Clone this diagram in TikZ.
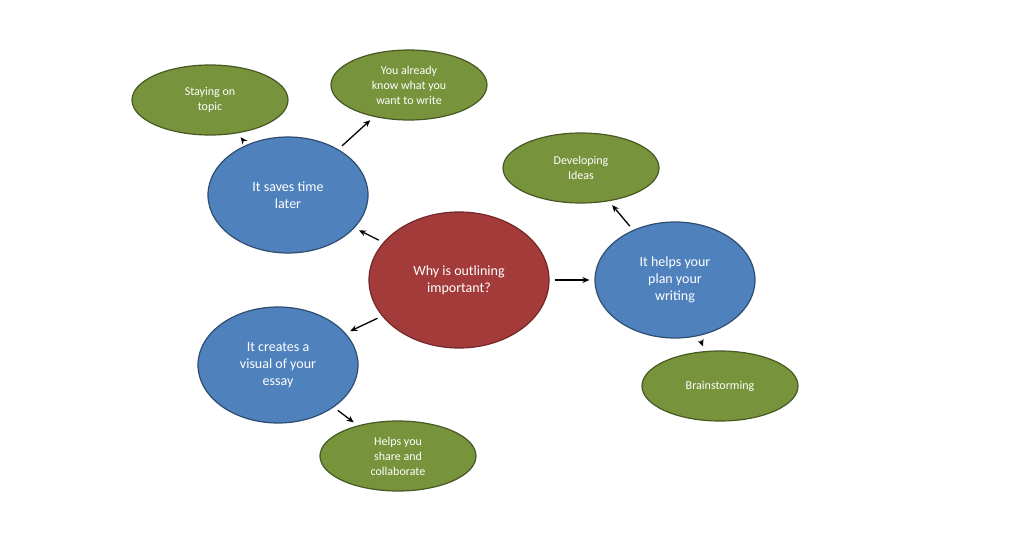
\documentclass[tikz,border=0pt]{standalone}
\usepackage{fontspec}
\setmainfont{Carlito}
\usetikzlibrary{shapes.geometric,arrows.meta}
\definecolor{cred}{HTML}{A33B3A}
\definecolor{cblue}{HTML}{4F81BD}
\definecolor{cgreen}{HTML}{77933C}
\tikzset{
 base/.style={ellipse,inner sep=0pt,align=center,text=white,line width=1.2pt},
 hub/.style={base,fill=cred,draw=cred!70!black,minimum width=180pt,minimum height=136pt,font=\fontsize{14}{17}\selectfont},
 mid/.style={base,fill=cblue,draw=cblue!60!black,minimum width=160pt,minimum height=116pt,font=\fontsize{14}{17}\selectfont},
 leaf/.style={base,fill=cgreen,draw=cgreen!60!black,minimum width=156pt,minimum height=70pt,font=\fontsize{12}{15}\selectfont},
 arr/.style={-{Stealth[length=7pt,width=6pt]},line width=1.3pt,shorten <=5pt,shorten >=5pt}
}
\begin{document}
\begin{tikzpicture}[x=1pt,y=-1pt]
\useasboundingbox (0,0) rectangle (1024,537);
\fill[white] (0,0) rectangle (1024,537);
\node[hub] (c) at (459,280) {Why is outlining\\important?};
\node[mid] (b1) at (288,195) {It saves time\\later};
\node[mid] (b2) at (278,365) {It creates a\\visual of your\\essay};
\node[mid] (b3) at (675,280) {It helps your\\plan your\\writing};
\node[leaf] (g1) at (210,100) {Staying on\\topic};
\node[leaf] (g2) at (409,85) {You already\\know what you\\want to write};
\node[leaf] (g3) at (581,168) {Developing\\Ideas};
\node[leaf] (g4) at (720,386) {Brainstorming};
\node[leaf] (g5) at (398,456) {Helps you\\share and\\collaborate};
\draw[arr] (c) -- (b1);
\draw[arr] (c) -- (b2);
\draw[arr] (c) -- (b3);
\draw[arr] (b1) -- (g1);
\draw[arr] (b1) -- (g2);
\draw[arr] (b3) -- (g3);
\draw[arr] (b3) -- (g4);
\draw[arr] (b2) -- (g5);
\end{tikzpicture}
\end{document}
